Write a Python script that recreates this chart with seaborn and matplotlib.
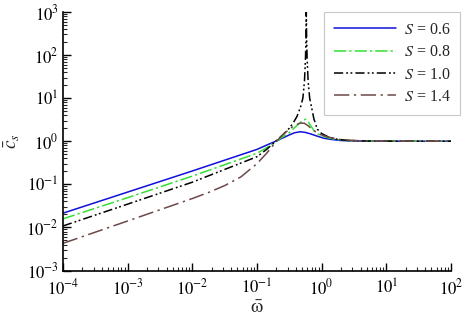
import numpy as np
import pandas as pd
import matplotlib
matplotlib.use("Agg")
import matplotlib.pyplot as plt
import seaborn as sns

# ---- data ----
w_s06 = [1e-4, 1e-3, 1e-2, 0.1, 0.141, 0.195, 0.251, 0.316, 0.380, 0.468, 0.562,
         0.676, 0.832, 1.09, 1.41, 2.0, 3.16, 10, 100]
c_s06 = [0.0214, 0.0661, 0.204, 0.646, 0.813, 1.0, 1.19, 1.40, 1.57, 1.66, 1.60,
         1.48, 1.33, 1.17, 1.10, 1.04, 1.014, 1.002, 1.0]

w_s08 = [1e-4, 1e-3, 1e-2, 0.1, 0.141, 0.195, 0.251, 0.316, 0.372, 0.447, 0.513,
         0.562, 0.617, 0.676, 0.759, 0.891, 1.12, 1.58, 2.51, 5.0, 10, 100]
c_s08 = [0.0158, 0.0490, 0.155, 0.525, 0.708, 0.977, 1.26, 1.58, 2.0, 2.57, 3.02,
         3.24, 2.88, 2.29, 1.78, 1.45, 1.26, 1.11, 1.04, 1.012, 1.005, 1.0]

w_s10 = [1e-4, 1e-3, 1e-2, 0.1, 0.141, 0.195, 0.251, 0.316, 0.372, 0.417, 0.473,
         0.513, 0.543, 0.562, 0.573, 0.579, 0.586, 0.597, 0.618, 0.653, 0.700,
         0.759, 0.857, 1.0, 1.23, 1.58, 2.51, 5.0, 10, 100]
c_s10 = [0.0108, 0.0347, 0.112, 0.437, 0.646, 1.0, 1.41, 2.0, 2.82, 3.8, 6.31,
         10.0, 25.1, 79.4, 251, 1000, 251, 79.4, 25.1, 10.0, 6.03,
         3.31, 1.91, 1.51, 1.29, 1.135, 1.042, 1.012, 1.005, 1.0]

w_s14 = [1e-4, 1e-3, 0.00316, 1e-2, 0.0178, 0.0316, 0.0562, 0.1, 0.141, 0.195, 0.251,
         0.316, 0.380, 0.468, 0.537, 0.617, 0.708, 0.891, 1.23, 2.0, 3.98, 10, 100]
c_s14 = [0.00427, 0.0141, 0.0257, 0.0468, 0.0646, 0.0933, 0.148, 0.302, 0.525, 0.955, 1.41,
         1.91, 2.34, 2.63, 2.63, 2.29, 1.91, 1.48, 1.26, 1.084, 1.023, 1.007, 1.0]

labels = [r"$S$ = 0.6", r"$S$ = 0.8", r"$S$ = 1.0", r"$S$ = 1.4"]
x_ticks = [1e-4, 1e-3, 1e-2, 1e-1, 1e0, 1e1, 1e2]
y_ticks = [1e-3, 1e-2, 1e-1, 1e0, 1e1, 1e2, 1e3]
x_ticklabels = [r"$10^{-4}$", r"$10^{-3}$", r"$10^{-2}$", r"$10^{-1}$",
                r"$10^{0}$", r"$10^{1}$", r"$10^{2}$"]
y_ticklabels = [r"$10^{-3}$", r"$10^{-2}$", r"$10^{-1}$", r"$10^{0}$",
                r"$10^{1}$", r"$10^{2}$", r"$10^{3}$"]

# ---- style ----
sns.set_style("ticks")
plt.rcParams["font.family"] = ["Liberation Serif", "DejaVu Serif"]
plt.rcParams["mathtext.fontset"] = "stix"
plt.rcParams["font.size"] = 11

fig = plt.figure(figsize=(4.63, 3.23), dpi=100)
ax = fig.add_axes([0.136, 0.1625, 0.838, 0.8005])

series = [
    (w_s06, c_s06, "#1010d8", None),
    (w_s08, c_s08, "#33e033", [8, 2, 1.5, 2]),
    (w_s10, c_s10, "#000000", [6, 2, 1.2, 1.6, 1.2, 2]),
    (w_s14, c_s14, "#6e4848", [10, 3, 1.5, 3]),
]

for (w, c, col, dash), lab in zip(series, labels):
    df = pd.DataFrame({"w": w, "c": c})
    sns.lineplot(data=df, x="w", y="c", ax=ax, color=col, linewidth=1.1,
                 label=lab, legend=False)
    line = ax.lines[-1]
    if dash is not None:
        line.set_dashes(dash)

ax.set_xscale("log")
ax.set_yscale("log")
ax.set_xlim(1e-4, 1e2)
ax.set_ylim(1e-3, 1e3)
ax.set_xticks(x_ticks)
ax.set_xticklabels(x_ticklabels)
ax.set_yticks(y_ticks)
ax.set_yticklabels(y_ticklabels)
ax.xaxis.set_minor_locator(matplotlib.ticker.LogLocator(base=10, subs=np.arange(2, 10), numticks=20))
ax.yaxis.set_minor_locator(matplotlib.ticker.LogLocator(base=10, subs=np.arange(2, 10), numticks=20))
ax.xaxis.set_minor_formatter(matplotlib.ticker.NullFormatter())
ax.yaxis.set_minor_formatter(matplotlib.ticker.NullFormatter())
ax.tick_params(which="major", direction="in", length=6, width=1.0, labelsize=12, colors="black")
ax.tick_params(which="minor", direction="in", length=3, width=0.8)
ax.tick_params(axis="x", pad=6)
ax.tick_params(axis="y", pad=3)

for s in ["top", "right"]:
    ax.spines[s].set_visible(False)
for s in ["left", "bottom"]:
    ax.spines[s].set_linewidth(1.2)
    ax.spines[s].set_color("black")

ax.set_xlabel(r"$\bar{\mathrm{\omega}}$", fontsize=14, labelpad=1)
ax.set_ylabel(r"$\bar{c}_s$", fontsize=14)
ax.yaxis.set_label_coords(-0.105, 0.5)

leg = ax.legend(loc="upper right", bbox_to_anchor=(0.994, 0.962),
                bbox_transform=fig.transFigure, borderaxespad=0,
                fontsize=11.5, handlelength=3.9, labelspacing=0.4,
                fancybox=False, frameon=True, borderpad=0.6, handletextpad=0.5)
leg.get_frame().set_edgecolor("#bbbbbb")
leg.get_frame().set_linewidth(0.8)

fig.savefig("out.png", dpi=100)
